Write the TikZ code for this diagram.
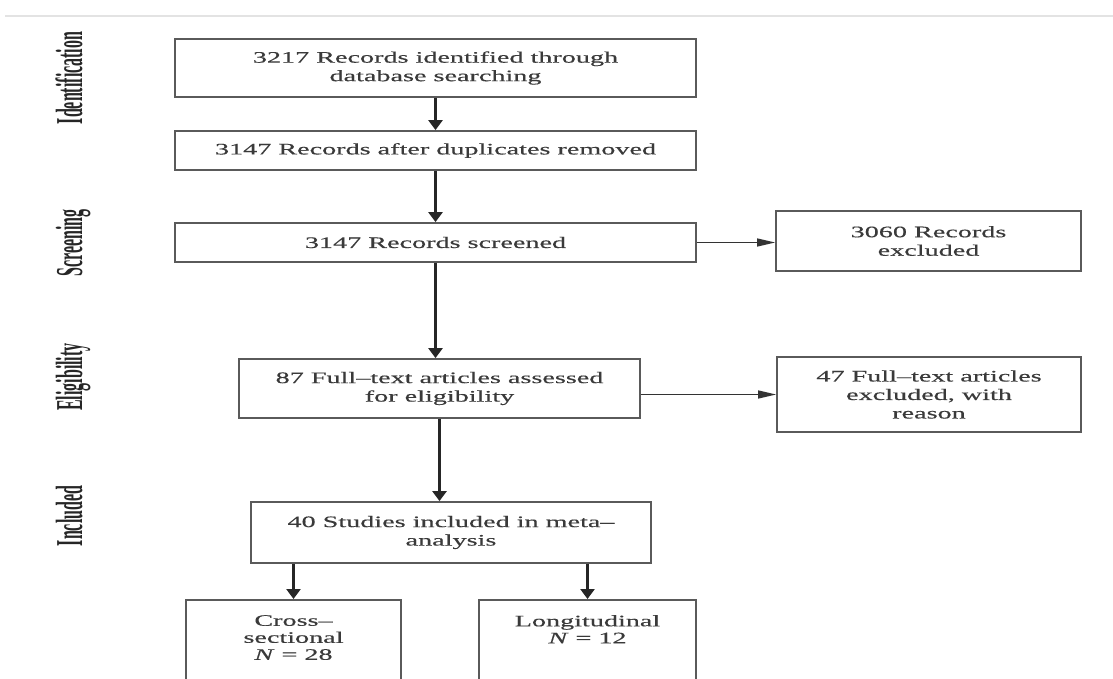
\documentclass[tikz,border=0pt]{standalone}
\usepackage{fontspec}
\setmainfont{Liberation Serif}
\newfontfamily\boxfont[FakeStretch=1.76,FakeBold=0.4]{Liberation Serif}
\newfontfamily\phasefont[FakeStretch=0.42]{Liberation Serif}
\usetikzlibrary{arrows.meta}
\definecolor{boxline}{HTML}{5A5A5A}
\definecolor{boxtext}{HTML}{3A3A3A}
\tikzset{
  prismabox/.style={draw=boxline, line width=1.8pt, text=boxtext, align=center,
    inner sep=0pt, font=\boxfont\fontsize{16}{18.5}\selectfont},
  boxtxt/.style={text=boxtext, align=center, inner sep=0pt,
    font=\boxfont\fontsize{16}{17}\selectfont},
  phaselabel/.style={rotate=90, anchor=base, text=black!85,
    font=\phasefont\bfseries\fontsize{38}{40}\selectfont},
  varrow/.style={-{Triangle[width=14pt,length=10pt]}, line width=2.6pt, black!85},
  harrow/.style={-{Triangle[width=8pt,length=18pt]}, line width=1.4pt, black!80}
}

\begin{document}
\begin{tikzpicture}[x=1pt,y=-1pt]
 \useasboundingbox (0,0) rectangle (1113,679);
 \fill[white] (0,0) rectangle (1113,679);
 \clip (0,0) rectangle (1113,679);
 \draw[gray!22, line width=2pt] (5,16) -- (1113,16);
 % phases
 \node[phaselabel] (pident) at (82,78) {Identification};
 \node[phaselabel] (pscreen) at (82,243) {Screening};
 \node[phaselabel] (pelig) at (82,377) {Eligibility};
 \node[phaselabel] (pincl) at (82,516) {Included};
 % main column
 \node[prismabox, minimum width=521pt, minimum height=58pt] (ident) at (435.5,68)
  {3217 Records identified through\\database searching};
 \node[prismabox, minimum width=521pt, minimum height=39pt] (dupl) at (435.5,150.5)
  {3147 Records after duplicates removed};
 \node[prismabox, minimum width=521pt, minimum height=39pt] (screen) at (435.5,242.5)
  {3147 Records screened};
 \node[prismabox, minimum width=401pt, minimum height=59pt] (elig) at (439.5,388.5)
  {87 Full–text articles assessed\\for eligibility};
 \node[prismabox, minimum width=400pt, minimum height=61pt] (incl) at (451,532.5)
  {40 Studies included in meta–\\analysis};
 % exclusions
 \node[prismabox, minimum width=305pt, minimum height=60pt] (excl) at (928.5,241)
  {3060 Records\\excluded};
 \node[prismabox, minimum width=304pt, minimum height=75pt] (fexcl) at (929,394.5)
  {47 Full–text articles\\excluded, with\\reason};
 % split by design
 \node[prismabox, minimum width=215pt, minimum height=121pt, anchor=north] (cross) at (293.5,599) {};
 \node[prismabox, minimum width=217pt, minimum height=121pt, anchor=north] (longi) at (587.5,599) {};
 \node[boxtxt, anchor=north] (crosstxt) at ([yshift=-16pt]cross.north)
  {Cross–\\sectional\\\textit{N} = 28};
 \node[boxtxt, anchor=north] (longitxt) at ([yshift=-16pt]longi.north)
  {Longitudinal\\\textit{N} = 12};
 % arrows
 \draw[varrow] (ident) -- (dupl);
 \draw[varrow] (dupl) -- (screen);
 \draw[varrow] (screen.south) -- (screen.south |- elig.north);
 \draw[varrow] (elig.south) -- (elig.south |- incl.north);
 \draw[varrow] (cross.north |- incl.south) -- (cross.north);
 \draw[varrow] (longi.north |- incl.south) -- (longi.north);
 \draw[harrow] (screen.east) -- (screen.east -| excl.west);
 \draw[harrow] (elig.east |- fexcl.west) -- (fexcl.west);
\end{tikzpicture}
\end{document}
